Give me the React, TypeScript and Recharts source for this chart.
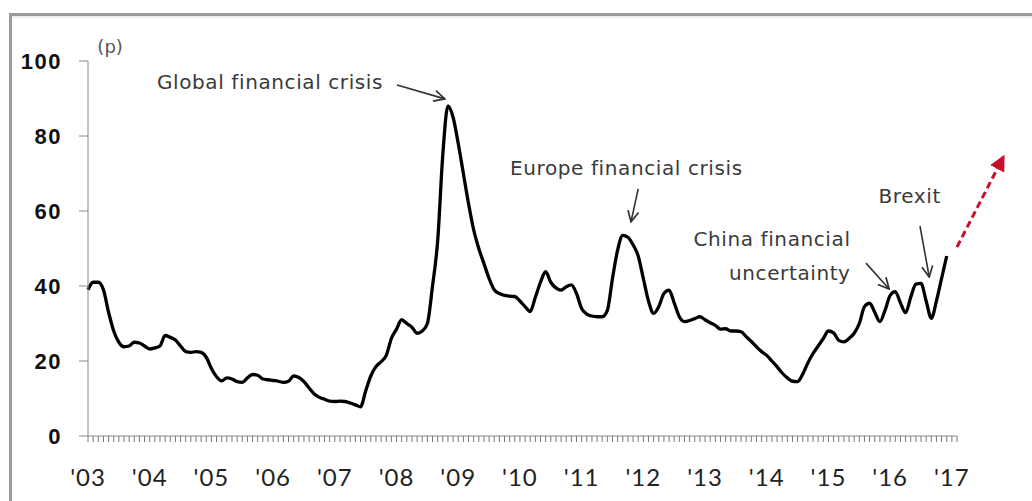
import React from 'react';
import { LineChart, Line, XAxis, YAxis, ReferenceLine, ReferenceDot } from 'recharts';

// Monthly index values, Jan 2003 .. Dec 2016
const indexValues: number[] = [
  39, 41, 41, 39, 33, 28, 25, 23.8, 24, 25, 24.8, 24,
  23.2, 23.5, 24, 26.8, 26.3, 25.6, 24, 22.5, 22.3, 22.5, 22.3, 21,
  18, 15.8, 14.7, 15.5, 15.2, 14.5, 14.3, 15.5, 16.4, 16.2, 15.2, 15,
  14.8, 14.6, 14.3, 14.6, 16, 15.6, 14.5, 12.8, 11.2, 10.3, 9.8, 9.3,
  9.2, 9.3, 9.2, 8.8, 8.3, 7.8, 12, 16, 18.5, 19.8, 21.5, 26,
  28.5, 31, 30, 29, 27.4, 28, 30, 40, 52, 75, 88, 85,
  78, 70, 62, 55, 50, 46, 42, 39, 38, 37.5, 37.3, 37.2,
  36, 34.5, 33.2, 37, 41, 43.8, 41, 39.5, 38.9, 39.8, 40.3, 38,
  34, 32.5, 32, 31.8, 31.8, 33.5, 42, 49.6, 53.5, 53, 51, 48,
  42, 36, 32.7, 34.5, 38, 38.9, 35.5, 31.8, 30.5, 30.8, 31.3, 31.8,
  31, 30.2, 29.5, 28.5, 28.6, 28, 28, 27.8, 26.5, 25.2, 23.8, 22.5,
  21.5, 20, 18.5, 16.8, 15.5, 14.6, 14.5, 16.5, 19.5, 22, 24, 26,
  28, 27.5, 25.5, 25.1, 26, 27.4, 30, 34.5, 35.4, 33, 30.5, 33.5,
  37.5, 38.5, 35.5, 32.9, 37, 40.5, 40.7, 36, 31.4, 36, 42, 48,
];

const yearLabels: string[] = ["'03", "'04", "'05", "'06", "'07", "'08", "'09", "'10", "'11", "'12", "'13", "'14", "'15", "'16", "'17"];
const yTicks: number[] = [0, 20, 40, 60, 80, 100];
const monthTicks: number[] = Array.from({ length: 170 }, (_, i) => i);

// Annotation texts: [text, month, value, anchor]
const annotationTexts: { text: string; m: number; v: number; pos: 'center' | 'left' }[] = [
  { text: 'Global financial crisis', m: 35.4, v: 94.4, pos: 'center' },
  { text: 'Europe financial crisis', m: 104.7, v: 71.5, pos: 'center' },
  { text: 'China financial', m: 148.3, v: 52.6, pos: 'left' },
  { text: 'uncertainty', m: 148.3, v: 43.6, pos: 'left' },
  { text: 'Brexit', m: 159.8, v: 64, pos: 'center' },
];

// Annotation arrows: from -> to (month, value)
const annotationArrows: { x1: number; y1: number; x2: number; y2: number }[] = [
  { x1: 60.1, y1: 93.6, x2: 69.4, y2: 89.9 },
  { x1: 107.0, y1: 65.9, x2: 105.6, y2: 57.1 },
  { x1: 151.3, y1: 46.1, x2: 155.8, y2: 39.2 },
  { x1: 161.8, y1: 56, x2: 163.6, y2: 42.4 },
];

const outlookArrow = { x1: 169, y1: 50.4, x2: 178, y2: 74.4 };

const data = indexValues.map((v, i) => ({ m: i, v }));

const YTick = (props: any) => {
  const { y, payload } = props;
  return (
    <text x={62} y={y} dy={8} textAnchor="end" fontFamily="Liberation Sans, Arial, sans-serif" fontWeight="bold" fontSize={22} letterSpacing={1.5} fill="#111">
      {payload.value}
    </text>
  );
};

const XTick = (props: any) => {
  const { x, payload } = props;
  const v = payload.value as number;
  if (v % 12 !== 0) return <g />;
  const label = yearLabels[v / 12];
  if (!label) return <g />;
  return (
    <text x={x} y={486} textAnchor="middle" fontFamily="Lato, 'Open Sans', sans-serif" fontSize={24} letterSpacing={1} fill="#222">
      {label}
    </text>
  );
};

export default function App() {
  return (
    <div style={{ position: 'absolute', left: 0, top: 0, width: 1032, height: 501, background: '#fff', overflow: 'hidden' }}>
      <div style={{ position: 'absolute', left: 9, top: 13, width: 1100, height: 485, borderTop: '3px solid #9c9c9c', borderLeft: '3px solid #9c9c9c', borderBottom: '1px solid #e0e0e0' }} />
      <div style={{ position: 'absolute', left: 12, top: 16, width: 1100, height: 2, background: '#ececec' }} />
      <div style={{ position: 'absolute', left: 0, top: 0 }}>
        <LineChart width={1032} height={501} data={data} margin={{ top: 61, right: 75, bottom: 0, left: 28 }}>
          <defs>
            <marker id="openHead" viewBox="0 0 12 12" refX="11" refY="6" markerWidth="13" markerHeight="13" markerUnits="userSpaceOnUse" orient="auto">
              <path d="M1,1 L11,6 L1,11" fill="none" stroke="#333" strokeWidth={1.6} />
            </marker>
            <marker id="redHead" viewBox="0 0 12 12" refX="10" refY="6" markerWidth="16" markerHeight="16" markerUnits="userSpaceOnUse" orient="auto">
              <path d="M0,0 L12,6 L0,12 Z" fill="#c8102e" />
            </marker>
          </defs>
          <XAxis
            dataKey="m"
            type="number"
            domain={[0, 169]}
            ticks={monthTicks}
            interval={0}
            tickSize={6}
            tickLine={{ stroke: '#777' }}
            axisLine={{ stroke: '#888' }}
            tick={<XTick />}
            height={65}
          />
          <YAxis
            domain={[0, 100]}
            ticks={yTicks}
            interval={0}
            width={60}
            tickSize={9}
            tickLine={{ stroke: '#888' }}
            axisLine={{ stroke: '#888' }}
            tick={<YTick />}
          />
          <Line type="monotone" dataKey="v" stroke="#000" strokeWidth={3.3} dot={false} isAnimationActive={false} />
          <ReferenceDot x={4.3} y={103.8} r={0} fill="none" stroke="none" ifOverflow="visible"
            label={{ value: '(p)', position: 'center', fill: '#555', fontSize: 18, fontFamily: 'DejaVu Sans, sans-serif' }} />
          {annotationTexts.map((a, i) => (
            <ReferenceDot key={'t' + i} x={a.m} y={a.v} r={0} fill="none" stroke="none" ifOverflow="visible"
              label={{ value: a.text, position: a.pos, offset: 0, fill: '#3a3a3a', fontSize: 20, letterSpacing: 0.6, fontFamily: 'DejaVu Sans, sans-serif' }} />
          ))}
          {annotationArrows.map((a, i) => (
            <ReferenceLine key={'a' + i} segment={[{ x: a.x1, y: a.y1 }, { x: a.x2, y: a.y2 }]} stroke="#333" strokeWidth={1.6}
              ifOverflow="visible" markerEnd="url(#openHead)" />
          ))}
          <ReferenceLine segment={[{ x: outlookArrow.x1, y: outlookArrow.y1 }, { x: outlookArrow.x2, y: outlookArrow.y2 }]}
            stroke="#c8102e" strokeWidth={3} strokeDasharray="7 4" ifOverflow="visible" markerEnd="url(#redHead)" />
        </LineChart>
      </div>
    </div>
  );
}
